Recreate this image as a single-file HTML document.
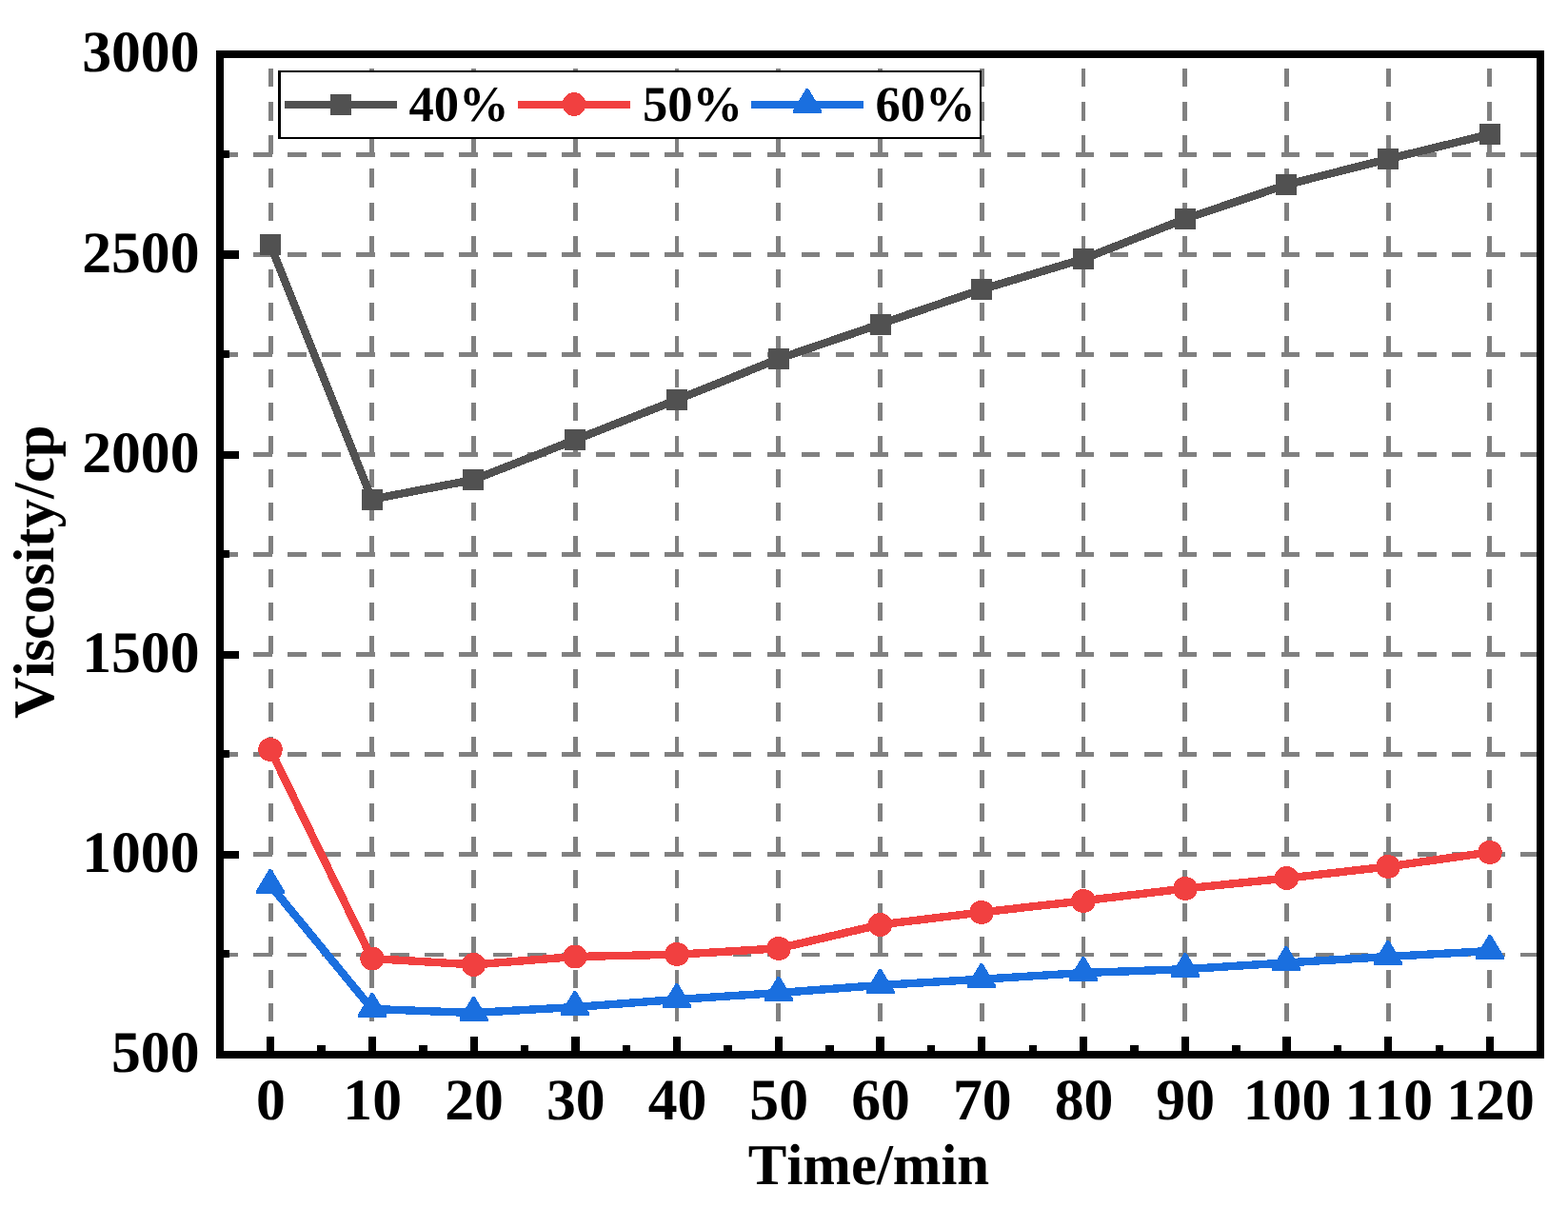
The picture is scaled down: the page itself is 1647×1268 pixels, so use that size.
<!DOCTYPE html>
<html lang="en"><head><meta charset="utf-8"><title>Viscosity vs Time</title>
<style>html,body{margin:0;padding:0;background:#fff}body{width:1647px;height:1268px;overflow:hidden}svg{display:block}text{font-family:"Liberation Serif","Times New Roman",serif;font-weight:bold;fill:#000;font-kerning:none;font-variant-ligatures:none}</style>
</head><body>
<svg width="1647" height="1268" viewBox="0 0 1647 1268" shape-rendering="crispEdges">
<rect x="0" y="0" width="1647" height="1268" fill="#fff"/>
<path fill="#808080" d="M282 72.30H287V91.45H282zM282 107.36H287V126.51H282zM282 142.42H287V161.57H282zM282 177.48H287V196.63H282zM282 212.54H287V231.69H282zM282 247.60H287V266.75H282zM282 282.66H287V301.81H282zM282 317.72H287V336.87H282zM282 352.78H287V371.93H282zM282 387.84H287V406.99H282zM282 422.90H287V442.05H282zM282 457.96H287V477.11H282zM282 493.02H287V512.17H282zM282 528.08H287V547.23H282zM282 563.14H287V582.29H282zM282 598.20H287V617.35H282zM282 633.26H287V652.41H282zM282 668.32H287V687.47H282zM282 703.38H287V722.53H282zM282 738.44H287V757.59H282zM282 773.50H287V792.65H282zM282 808.56H287V827.71H282zM282 843.62H287V862.77H282zM282 878.68H287V897.83H282zM282 913.74H287V932.89H282zM282 948.80H287V967.95H282zM282 983.86H287V1003.01H282zM282 1018.92H287V1038.07H282zM282 1053.98H287V1073.13H282zM388 72.30H393V91.45H388zM388 107.36H393V126.51H388zM388 142.42H393V161.57H388zM388 177.48H393V196.63H388zM388 212.54H393V231.69H388zM388 247.60H393V266.75H388zM388 282.66H393V301.81H388zM388 317.72H393V336.87H388zM388 352.78H393V371.93H388zM388 387.84H393V406.99H388zM388 422.90H393V442.05H388zM388 457.96H393V477.11H388zM388 493.02H393V512.17H388zM388 528.08H393V547.23H388zM388 563.14H393V582.29H388zM388 598.20H393V617.35H388zM388 633.26H393V652.41H388zM388 668.32H393V687.47H388zM388 703.38H393V722.53H388zM388 738.44H393V757.59H388zM388 773.50H393V792.65H388zM388 808.56H393V827.71H388zM388 843.62H393V862.77H388zM388 878.68H393V897.83H388zM388 913.74H393V932.89H388zM388 948.80H393V967.95H388zM388 983.86H393V1003.01H388zM388 1018.92H393V1038.07H388zM388 1053.98H393V1073.13H388zM495 72.30H500V91.45H495zM495 107.36H500V126.51H495zM495 142.42H500V161.57H495zM495 177.48H500V196.63H495zM495 212.54H500V231.69H495zM495 247.60H500V266.75H495zM495 282.66H500V301.81H495zM495 317.72H500V336.87H495zM495 352.78H500V371.93H495zM495 387.84H500V406.99H495zM495 422.90H500V442.05H495zM495 457.96H500V477.11H495zM495 493.02H500V512.17H495zM495 528.08H500V547.23H495zM495 563.14H500V582.29H495zM495 598.20H500V617.35H495zM495 633.26H500V652.41H495zM495 668.32H500V687.47H495zM495 703.38H500V722.53H495zM495 738.44H500V757.59H495zM495 773.50H500V792.65H495zM495 808.56H500V827.71H495zM495 843.62H500V862.77H495zM495 878.68H500V897.83H495zM495 913.74H500V932.89H495zM495 948.80H500V967.95H495zM495 983.86H500V1003.01H495zM495 1018.92H500V1038.07H495zM495 1053.98H500V1073.13H495zM602 72.30H607V91.45H602zM602 107.36H607V126.51H602zM602 142.42H607V161.57H602zM602 177.48H607V196.63H602zM602 212.54H607V231.69H602zM602 247.60H607V266.75H602zM602 282.66H607V301.81H602zM602 317.72H607V336.87H602zM602 352.78H607V371.93H602zM602 387.84H607V406.99H602zM602 422.90H607V442.05H602zM602 457.96H607V477.11H602zM602 493.02H607V512.17H602zM602 528.08H607V547.23H602zM602 563.14H607V582.29H602zM602 598.20H607V617.35H602zM602 633.26H607V652.41H602zM602 668.32H607V687.47H602zM602 703.38H607V722.53H602zM602 738.44H607V757.59H602zM602 773.50H607V792.65H602zM602 808.56H607V827.71H602zM602 843.62H607V862.77H602zM602 878.68H607V897.83H602zM602 913.74H607V932.89H602zM602 948.80H607V967.95H602zM602 983.86H607V1003.01H602zM602 1018.92H607V1038.07H602zM602 1053.98H607V1073.13H602zM709 72.30H713V91.45H709zM709 107.36H713V126.51H709zM709 142.42H713V161.57H709zM709 177.48H713V196.63H709zM709 212.54H713V231.69H709zM709 247.60H713V266.75H709zM709 282.66H713V301.81H709zM709 317.72H713V336.87H709zM709 352.78H713V371.93H709zM709 387.84H713V406.99H709zM709 422.90H713V442.05H709zM709 457.96H713V477.11H709zM709 493.02H713V512.17H709zM709 528.08H713V547.23H709zM709 563.14H713V582.29H709zM709 598.20H713V617.35H709zM709 633.26H713V652.41H709zM709 668.32H713V687.47H709zM709 703.38H713V722.53H709zM709 738.44H713V757.59H709zM709 773.50H713V792.65H709zM709 808.56H713V827.71H709zM709 843.62H713V862.77H709zM709 878.68H713V897.83H709zM709 913.74H713V932.89H709zM709 948.80H713V967.95H709zM709 983.86H713V1003.01H709zM709 1018.92H713V1038.07H709zM709 1053.98H713V1073.13H709zM815 72.30H820V91.45H815zM815 107.36H820V126.51H815zM815 142.42H820V161.57H815zM815 177.48H820V196.63H815zM815 212.54H820V231.69H815zM815 247.60H820V266.75H815zM815 282.66H820V301.81H815zM815 317.72H820V336.87H815zM815 352.78H820V371.93H815zM815 387.84H820V406.99H815zM815 422.90H820V442.05H815zM815 457.96H820V477.11H815zM815 493.02H820V512.17H815zM815 528.08H820V547.23H815zM815 563.14H820V582.29H815zM815 598.20H820V617.35H815zM815 633.26H820V652.41H815zM815 668.32H820V687.47H815zM815 703.38H820V722.53H815zM815 738.44H820V757.59H815zM815 773.50H820V792.65H815zM815 808.56H820V827.71H815zM815 843.62H820V862.77H815zM815 878.68H820V897.83H815zM815 913.74H820V932.89H815zM815 948.80H820V967.95H815zM815 983.86H820V1003.01H815zM815 1018.92H820V1038.07H815zM815 1053.98H820V1073.13H815zM922 72.30H927V91.45H922zM922 107.36H927V126.51H922zM922 142.42H927V161.57H922zM922 177.48H927V196.63H922zM922 212.54H927V231.69H922zM922 247.60H927V266.75H922zM922 282.66H927V301.81H922zM922 317.72H927V336.87H922zM922 352.78H927V371.93H922zM922 387.84H927V406.99H922zM922 422.90H927V442.05H922zM922 457.96H927V477.11H922zM922 493.02H927V512.17H922zM922 528.08H927V547.23H922zM922 563.14H927V582.29H922zM922 598.20H927V617.35H922zM922 633.26H927V652.41H922zM922 668.32H927V687.47H922zM922 703.38H927V722.53H922zM922 738.44H927V757.59H922zM922 773.50H927V792.65H922zM922 808.56H927V827.71H922zM922 843.62H927V862.77H922zM922 878.68H927V897.83H922zM922 913.74H927V932.89H922zM922 948.80H927V967.95H922zM922 983.86H927V1003.01H922zM922 1018.92H927V1038.07H922zM922 1053.98H927V1073.13H922zM1029 72.30H1034V91.45H1029zM1029 107.36H1034V126.51H1029zM1029 142.42H1034V161.57H1029zM1029 177.48H1034V196.63H1029zM1029 212.54H1034V231.69H1029zM1029 247.60H1034V266.75H1029zM1029 282.66H1034V301.81H1029zM1029 317.72H1034V336.87H1029zM1029 352.78H1034V371.93H1029zM1029 387.84H1034V406.99H1029zM1029 422.90H1034V442.05H1029zM1029 457.96H1034V477.11H1029zM1029 493.02H1034V512.17H1029zM1029 528.08H1034V547.23H1029zM1029 563.14H1034V582.29H1029zM1029 598.20H1034V617.35H1029zM1029 633.26H1034V652.41H1029zM1029 668.32H1034V687.47H1029zM1029 703.38H1034V722.53H1029zM1029 738.44H1034V757.59H1029zM1029 773.50H1034V792.65H1029zM1029 808.56H1034V827.71H1029zM1029 843.62H1034V862.77H1029zM1029 878.68H1034V897.83H1029zM1029 913.74H1034V932.89H1029zM1029 948.80H1034V967.95H1029zM1029 983.86H1034V1003.01H1029zM1029 1018.92H1034V1038.07H1029zM1029 1053.98H1034V1073.13H1029zM1136 72.30H1140V91.45H1136zM1136 107.36H1140V126.51H1136zM1136 142.42H1140V161.57H1136zM1136 177.48H1140V196.63H1136zM1136 212.54H1140V231.69H1136zM1136 247.60H1140V266.75H1136zM1136 282.66H1140V301.81H1136zM1136 317.72H1140V336.87H1136zM1136 352.78H1140V371.93H1136zM1136 387.84H1140V406.99H1136zM1136 422.90H1140V442.05H1136zM1136 457.96H1140V477.11H1136zM1136 493.02H1140V512.17H1136zM1136 528.08H1140V547.23H1136zM1136 563.14H1140V582.29H1136zM1136 598.20H1140V617.35H1136zM1136 633.26H1140V652.41H1136zM1136 668.32H1140V687.47H1136zM1136 703.38H1140V722.53H1136zM1136 738.44H1140V757.59H1136zM1136 773.50H1140V792.65H1136zM1136 808.56H1140V827.71H1136zM1136 843.62H1140V862.77H1136zM1136 878.68H1140V897.83H1136zM1136 913.74H1140V932.89H1136zM1136 948.80H1140V967.95H1136zM1136 983.86H1140V1003.01H1136zM1136 1018.92H1140V1038.07H1136zM1136 1053.98H1140V1073.13H1136zM1242 72.30H1247V91.45H1242zM1242 107.36H1247V126.51H1242zM1242 142.42H1247V161.57H1242zM1242 177.48H1247V196.63H1242zM1242 212.54H1247V231.69H1242zM1242 247.60H1247V266.75H1242zM1242 282.66H1247V301.81H1242zM1242 317.72H1247V336.87H1242zM1242 352.78H1247V371.93H1242zM1242 387.84H1247V406.99H1242zM1242 422.90H1247V442.05H1242zM1242 457.96H1247V477.11H1242zM1242 493.02H1247V512.17H1242zM1242 528.08H1247V547.23H1242zM1242 563.14H1247V582.29H1242zM1242 598.20H1247V617.35H1242zM1242 633.26H1247V652.41H1242zM1242 668.32H1247V687.47H1242zM1242 703.38H1247V722.53H1242zM1242 738.44H1247V757.59H1242zM1242 773.50H1247V792.65H1242zM1242 808.56H1247V827.71H1242zM1242 843.62H1247V862.77H1242zM1242 878.68H1247V897.83H1242zM1242 913.74H1247V932.89H1242zM1242 948.80H1247V967.95H1242zM1242 983.86H1247V1003.01H1242zM1242 1018.92H1247V1038.07H1242zM1242 1053.98H1247V1073.13H1242zM1349 72.30H1354V91.45H1349zM1349 107.36H1354V126.51H1349zM1349 142.42H1354V161.57H1349zM1349 177.48H1354V196.63H1349zM1349 212.54H1354V231.69H1349zM1349 247.60H1354V266.75H1349zM1349 282.66H1354V301.81H1349zM1349 317.72H1354V336.87H1349zM1349 352.78H1354V371.93H1349zM1349 387.84H1354V406.99H1349zM1349 422.90H1354V442.05H1349zM1349 457.96H1354V477.11H1349zM1349 493.02H1354V512.17H1349zM1349 528.08H1354V547.23H1349zM1349 563.14H1354V582.29H1349zM1349 598.20H1354V617.35H1349zM1349 633.26H1354V652.41H1349zM1349 668.32H1354V687.47H1349zM1349 703.38H1354V722.53H1349zM1349 738.44H1354V757.59H1349zM1349 773.50H1354V792.65H1349zM1349 808.56H1354V827.71H1349zM1349 843.62H1354V862.77H1349zM1349 878.68H1354V897.83H1349zM1349 913.74H1354V932.89H1349zM1349 948.80H1354V967.95H1349zM1349 983.86H1354V1003.01H1349zM1349 1018.92H1354V1038.07H1349zM1349 1053.98H1354V1073.13H1349zM1456 72.30H1461V91.45H1456zM1456 107.36H1461V126.51H1456zM1456 142.42H1461V161.57H1456zM1456 177.48H1461V196.63H1456zM1456 212.54H1461V231.69H1456zM1456 247.60H1461V266.75H1456zM1456 282.66H1461V301.81H1456zM1456 317.72H1461V336.87H1456zM1456 352.78H1461V371.93H1456zM1456 387.84H1461V406.99H1456zM1456 422.90H1461V442.05H1456zM1456 457.96H1461V477.11H1456zM1456 493.02H1461V512.17H1456zM1456 528.08H1461V547.23H1456zM1456 563.14H1461V582.29H1456zM1456 598.20H1461V617.35H1456zM1456 633.26H1461V652.41H1456zM1456 668.32H1461V687.47H1456zM1456 703.38H1461V722.53H1456zM1456 738.44H1461V757.59H1456zM1456 773.50H1461V792.65H1456zM1456 808.56H1461V827.71H1456zM1456 843.62H1461V862.77H1456zM1456 878.68H1461V897.83H1456zM1456 913.74H1461V932.89H1456zM1456 948.80H1461V967.95H1456zM1456 983.86H1461V1003.01H1456zM1456 1018.92H1461V1038.07H1456zM1456 1053.98H1461V1073.13H1456zM1562 72.30H1567V91.45H1562zM1562 107.36H1567V126.51H1562zM1562 142.42H1567V161.57H1562zM1562 177.48H1567V196.63H1562zM1562 212.54H1567V231.69H1562zM1562 247.60H1567V266.75H1562zM1562 282.66H1567V301.81H1562zM1562 317.72H1567V336.87H1562zM1562 352.78H1567V371.93H1562zM1562 387.84H1567V406.99H1562zM1562 422.90H1567V442.05H1562zM1562 457.96H1567V477.11H1562zM1562 493.02H1567V512.17H1562zM1562 528.08H1567V547.23H1562zM1562 563.14H1567V582.29H1562zM1562 598.20H1567V617.35H1562zM1562 633.26H1567V652.41H1562zM1562 668.32H1567V687.47H1562zM1562 703.38H1567V722.53H1562zM1562 738.44H1567V757.59H1562zM1562 773.50H1567V792.65H1562zM1562 808.56H1567V827.71H1562zM1562 843.62H1567V862.77H1562zM1562 878.68H1567V897.83H1562zM1562 913.74H1567V932.89H1562zM1562 948.80H1567V967.95H1562zM1562 983.86H1567V1003.01H1562zM1562 1018.92H1567V1038.07H1562zM1562 1053.98H1567V1073.13H1562zM235.00 160H249.83V165H235.00zM266.30 160H285.80V165H266.30zM302.28 160H321.78V165H302.28zM338.25 160H357.75V165H338.25zM374.23 160H393.73V165H374.23zM410.20 160H429.70V165H410.20zM446.18 160H465.68V165H446.18zM482.15 160H501.65V165H482.15zM518.12 160H537.62V165H518.12zM554.10 160H573.60V165H554.10zM590.08 160H609.58V165H590.08zM626.05 160H645.55V165H626.05zM662.03 160H681.53V165H662.03zM698.00 160H717.50V165H698.00zM733.98 160H753.48V165H733.98zM769.95 160H789.45V165H769.95zM805.92 160H825.42V165H805.92zM841.90 160H861.40V165H841.90zM877.88 160H897.38V165H877.88zM913.85 160H933.35V165H913.85zM949.83 160H969.33V165H949.83zM985.80 160H1005.30V165H985.80zM1021.78 160H1041.28V165H1021.78zM1057.75 160H1077.25V165H1057.75zM1093.73 160H1113.23V165H1093.73zM1129.70 160H1149.20V165H1129.70zM1165.67 160H1185.17V165H1165.67zM1201.65 160H1221.15V165H1201.65zM1237.62 160H1257.12V165H1237.62zM1273.60 160H1293.10V165H1273.60zM1309.58 160H1329.08V165H1309.58zM1345.55 160H1365.05V165H1345.55zM1381.53 160H1401.03V165H1381.53zM1417.50 160H1437.00V165H1417.50zM1453.47 160H1472.97V165H1453.47zM1489.45 160H1508.95V165H1489.45zM1525.42 160H1544.92V165H1525.42zM1561.40 160H1580.90V165H1561.40zM1597.38 160H1614.00V165H1597.38zM235.00 265H249.83V270H235.00zM266.30 265H285.80V270H266.30zM302.28 265H321.78V270H302.28zM338.25 265H357.75V270H338.25zM374.23 265H393.73V270H374.23zM410.20 265H429.70V270H410.20zM446.18 265H465.68V270H446.18zM482.15 265H501.65V270H482.15zM518.12 265H537.62V270H518.12zM554.10 265H573.60V270H554.10zM590.08 265H609.58V270H590.08zM626.05 265H645.55V270H626.05zM662.03 265H681.53V270H662.03zM698.00 265H717.50V270H698.00zM733.98 265H753.48V270H733.98zM769.95 265H789.45V270H769.95zM805.92 265H825.42V270H805.92zM841.90 265H861.40V270H841.90zM877.88 265H897.38V270H877.88zM913.85 265H933.35V270H913.85zM949.83 265H969.33V270H949.83zM985.80 265H1005.30V270H985.80zM1021.78 265H1041.28V270H1021.78zM1057.75 265H1077.25V270H1057.75zM1093.73 265H1113.23V270H1093.73zM1129.70 265H1149.20V270H1129.70zM1165.67 265H1185.17V270H1165.67zM1201.65 265H1221.15V270H1201.65zM1237.62 265H1257.12V270H1237.62zM1273.60 265H1293.10V270H1273.60zM1309.58 265H1329.08V270H1309.58zM1345.55 265H1365.05V270H1345.55zM1381.53 265H1401.03V270H1381.53zM1417.50 265H1437.00V270H1417.50zM1453.47 265H1472.97V270H1453.47zM1489.45 265H1508.95V270H1489.45zM1525.42 265H1544.92V270H1525.42zM1561.40 265H1580.90V270H1561.40zM1597.38 265H1614.00V270H1597.38zM235.00 370H249.83V375H235.00zM266.30 370H285.80V375H266.30zM302.28 370H321.78V375H302.28zM338.25 370H357.75V375H338.25zM374.23 370H393.73V375H374.23zM410.20 370H429.70V375H410.20zM446.18 370H465.68V375H446.18zM482.15 370H501.65V375H482.15zM518.12 370H537.62V375H518.12zM554.10 370H573.60V375H554.10zM590.08 370H609.58V375H590.08zM626.05 370H645.55V375H626.05zM662.03 370H681.53V375H662.03zM698.00 370H717.50V375H698.00zM733.98 370H753.48V375H733.98zM769.95 370H789.45V375H769.95zM805.92 370H825.42V375H805.92zM841.90 370H861.40V375H841.90zM877.88 370H897.38V375H877.88zM913.85 370H933.35V375H913.85zM949.83 370H969.33V375H949.83zM985.80 370H1005.30V375H985.80zM1021.78 370H1041.28V375H1021.78zM1057.75 370H1077.25V375H1057.75zM1093.73 370H1113.23V375H1093.73zM1129.70 370H1149.20V375H1129.70zM1165.67 370H1185.17V375H1165.67zM1201.65 370H1221.15V375H1201.65zM1237.62 370H1257.12V375H1237.62zM1273.60 370H1293.10V375H1273.60zM1309.58 370H1329.08V375H1309.58zM1345.55 370H1365.05V375H1345.55zM1381.53 370H1401.03V375H1381.53zM1417.50 370H1437.00V375H1417.50zM1453.47 370H1472.97V375H1453.47zM1489.45 370H1508.95V375H1489.45zM1525.42 370H1544.92V375H1525.42zM1561.40 370H1580.90V375H1561.40zM1597.38 370H1614.00V375H1597.38zM235.00 475H249.83V480H235.00zM266.30 475H285.80V480H266.30zM302.28 475H321.78V480H302.28zM338.25 475H357.75V480H338.25zM374.23 475H393.73V480H374.23zM410.20 475H429.70V480H410.20zM446.18 475H465.68V480H446.18zM482.15 475H501.65V480H482.15zM518.12 475H537.62V480H518.12zM554.10 475H573.60V480H554.10zM590.08 475H609.58V480H590.08zM626.05 475H645.55V480H626.05zM662.03 475H681.53V480H662.03zM698.00 475H717.50V480H698.00zM733.98 475H753.48V480H733.98zM769.95 475H789.45V480H769.95zM805.92 475H825.42V480H805.92zM841.90 475H861.40V480H841.90zM877.88 475H897.38V480H877.88zM913.85 475H933.35V480H913.85zM949.83 475H969.33V480H949.83zM985.80 475H1005.30V480H985.80zM1021.78 475H1041.28V480H1021.78zM1057.75 475H1077.25V480H1057.75zM1093.73 475H1113.23V480H1093.73zM1129.70 475H1149.20V480H1129.70zM1165.67 475H1185.17V480H1165.67zM1201.65 475H1221.15V480H1201.65zM1237.62 475H1257.12V480H1237.62zM1273.60 475H1293.10V480H1273.60zM1309.58 475H1329.08V480H1309.58zM1345.55 475H1365.05V480H1345.55zM1381.53 475H1401.03V480H1381.53zM1417.50 475H1437.00V480H1417.50zM1453.47 475H1472.97V480H1453.47zM1489.45 475H1508.95V480H1489.45zM1525.42 475H1544.92V480H1525.42zM1561.40 475H1580.90V480H1561.40zM1597.38 475H1614.00V480H1597.38zM235.00 580H249.83V585H235.00zM266.30 580H285.80V585H266.30zM302.28 580H321.78V585H302.28zM338.25 580H357.75V585H338.25zM374.23 580H393.73V585H374.23zM410.20 580H429.70V585H410.20zM446.18 580H465.68V585H446.18zM482.15 580H501.65V585H482.15zM518.12 580H537.62V585H518.12zM554.10 580H573.60V585H554.10zM590.08 580H609.58V585H590.08zM626.05 580H645.55V585H626.05zM662.03 580H681.53V585H662.03zM698.00 580H717.50V585H698.00zM733.98 580H753.48V585H733.98zM769.95 580H789.45V585H769.95zM805.92 580H825.42V585H805.92zM841.90 580H861.40V585H841.90zM877.88 580H897.38V585H877.88zM913.85 580H933.35V585H913.85zM949.83 580H969.33V585H949.83zM985.80 580H1005.30V585H985.80zM1021.78 580H1041.28V585H1021.78zM1057.75 580H1077.25V585H1057.75zM1093.73 580H1113.23V585H1093.73zM1129.70 580H1149.20V585H1129.70zM1165.67 580H1185.17V585H1165.67zM1201.65 580H1221.15V585H1201.65zM1237.62 580H1257.12V585H1237.62zM1273.60 580H1293.10V585H1273.60zM1309.58 580H1329.08V585H1309.58zM1345.55 580H1365.05V585H1345.55zM1381.53 580H1401.03V585H1381.53zM1417.50 580H1437.00V585H1417.50zM1453.47 580H1472.97V585H1453.47zM1489.45 580H1508.95V585H1489.45zM1525.42 580H1544.92V585H1525.42zM1561.40 580H1580.90V585H1561.40zM1597.38 580H1614.00V585H1597.38zM235.00 685H249.83V690H235.00zM266.30 685H285.80V690H266.30zM302.28 685H321.78V690H302.28zM338.25 685H357.75V690H338.25zM374.23 685H393.73V690H374.23zM410.20 685H429.70V690H410.20zM446.18 685H465.68V690H446.18zM482.15 685H501.65V690H482.15zM518.12 685H537.62V690H518.12zM554.10 685H573.60V690H554.10zM590.08 685H609.58V690H590.08zM626.05 685H645.55V690H626.05zM662.03 685H681.53V690H662.03zM698.00 685H717.50V690H698.00zM733.98 685H753.48V690H733.98zM769.95 685H789.45V690H769.95zM805.92 685H825.42V690H805.92zM841.90 685H861.40V690H841.90zM877.88 685H897.38V690H877.88zM913.85 685H933.35V690H913.85zM949.83 685H969.33V690H949.83zM985.80 685H1005.30V690H985.80zM1021.78 685H1041.28V690H1021.78zM1057.75 685H1077.25V690H1057.75zM1093.73 685H1113.23V690H1093.73zM1129.70 685H1149.20V690H1129.70zM1165.67 685H1185.17V690H1165.67zM1201.65 685H1221.15V690H1201.65zM1237.62 685H1257.12V690H1237.62zM1273.60 685H1293.10V690H1273.60zM1309.58 685H1329.08V690H1309.58zM1345.55 685H1365.05V690H1345.55zM1381.53 685H1401.03V690H1381.53zM1417.50 685H1437.00V690H1417.50zM1453.47 685H1472.97V690H1453.47zM1489.45 685H1508.95V690H1489.45zM1525.42 685H1544.92V690H1525.42zM1561.40 685H1580.90V690H1561.40zM1597.38 685H1614.00V690H1597.38zM235.00 790H249.83V795H235.00zM266.30 790H285.80V795H266.30zM302.28 790H321.78V795H302.28zM338.25 790H357.75V795H338.25zM374.23 790H393.73V795H374.23zM410.20 790H429.70V795H410.20zM446.18 790H465.68V795H446.18zM482.15 790H501.65V795H482.15zM518.12 790H537.62V795H518.12zM554.10 790H573.60V795H554.10zM590.08 790H609.58V795H590.08zM626.05 790H645.55V795H626.05zM662.03 790H681.53V795H662.03zM698.00 790H717.50V795H698.00zM733.98 790H753.48V795H733.98zM769.95 790H789.45V795H769.95zM805.92 790H825.42V795H805.92zM841.90 790H861.40V795H841.90zM877.88 790H897.38V795H877.88zM913.85 790H933.35V795H913.85zM949.83 790H969.33V795H949.83zM985.80 790H1005.30V795H985.80zM1021.78 790H1041.28V795H1021.78zM1057.75 790H1077.25V795H1057.75zM1093.73 790H1113.23V795H1093.73zM1129.70 790H1149.20V795H1129.70zM1165.67 790H1185.17V795H1165.67zM1201.65 790H1221.15V795H1201.65zM1237.62 790H1257.12V795H1237.62zM1273.60 790H1293.10V795H1273.60zM1309.58 790H1329.08V795H1309.58zM1345.55 790H1365.05V795H1345.55zM1381.53 790H1401.03V795H1381.53zM1417.50 790H1437.00V795H1417.50zM1453.47 790H1472.97V795H1453.47zM1489.45 790H1508.95V795H1489.45zM1525.42 790H1544.92V795H1525.42zM1561.40 790H1580.90V795H1561.40zM1597.38 790H1614.00V795H1597.38zM235.00 895H249.83V900H235.00zM266.30 895H285.80V900H266.30zM302.28 895H321.78V900H302.28zM338.25 895H357.75V900H338.25zM374.23 895H393.73V900H374.23zM410.20 895H429.70V900H410.20zM446.18 895H465.68V900H446.18zM482.15 895H501.65V900H482.15zM518.12 895H537.62V900H518.12zM554.10 895H573.60V900H554.10zM590.08 895H609.58V900H590.08zM626.05 895H645.55V900H626.05zM662.03 895H681.53V900H662.03zM698.00 895H717.50V900H698.00zM733.98 895H753.48V900H733.98zM769.95 895H789.45V900H769.95zM805.92 895H825.42V900H805.92zM841.90 895H861.40V900H841.90zM877.88 895H897.38V900H877.88zM913.85 895H933.35V900H913.85zM949.83 895H969.33V900H949.83zM985.80 895H1005.30V900H985.80zM1021.78 895H1041.28V900H1021.78zM1057.75 895H1077.25V900H1057.75zM1093.73 895H1113.23V900H1093.73zM1129.70 895H1149.20V900H1129.70zM1165.67 895H1185.17V900H1165.67zM1201.65 895H1221.15V900H1201.65zM1237.62 895H1257.12V900H1237.62zM1273.60 895H1293.10V900H1273.60zM1309.58 895H1329.08V900H1309.58zM1345.55 895H1365.05V900H1345.55zM1381.53 895H1401.03V900H1381.53zM1417.50 895H1437.00V900H1417.50zM1453.47 895H1472.97V900H1453.47zM1489.45 895H1508.95V900H1489.45zM1525.42 895H1544.92V900H1525.42zM1561.40 895H1580.90V900H1561.40zM1597.38 895H1614.00V900H1597.38zM235.00 1001H249.83V1005H235.00zM266.30 1001H285.80V1005H266.30zM302.28 1001H321.78V1005H302.28zM338.25 1001H357.75V1005H338.25zM374.23 1001H393.73V1005H374.23zM410.20 1001H429.70V1005H410.20zM446.18 1001H465.68V1005H446.18zM482.15 1001H501.65V1005H482.15zM518.12 1001H537.62V1005H518.12zM554.10 1001H573.60V1005H554.10zM590.08 1001H609.58V1005H590.08zM626.05 1001H645.55V1005H626.05zM662.03 1001H681.53V1005H662.03zM698.00 1001H717.50V1005H698.00zM733.98 1001H753.48V1005H733.98zM769.95 1001H789.45V1005H769.95zM805.92 1001H825.42V1005H805.92zM841.90 1001H861.40V1005H841.90zM877.88 1001H897.38V1005H877.88zM913.85 1001H933.35V1005H913.85zM949.83 1001H969.33V1005H949.83zM985.80 1001H1005.30V1005H985.80zM1021.78 1001H1041.28V1005H1021.78zM1057.75 1001H1077.25V1005H1057.75zM1093.73 1001H1113.23V1005H1093.73zM1129.70 1001H1149.20V1005H1129.70zM1165.67 1001H1185.17V1005H1165.67zM1201.65 1001H1221.15V1005H1201.65zM1237.62 1001H1257.12V1005H1237.62zM1273.60 1001H1293.10V1005H1273.60zM1309.58 1001H1329.08V1005H1309.58zM1345.55 1001H1365.05V1005H1345.55zM1381.53 1001H1401.03V1005H1381.53zM1417.50 1001H1437.00V1005H1417.50zM1453.47 1001H1472.97V1005H1453.47zM1489.45 1001H1508.95V1005H1489.45zM1525.42 1001H1544.92V1005H1525.42zM1561.40 1001H1580.90V1005H1561.40zM1597.38 1001H1614.00V1005H1597.38z"/>
<polyline fill="none" stroke="#515151" stroke-width="8.4" stroke-linejoin="round" points="284.00,257.00 390.75,524.50 497.50,504.00 604.25,462.00 711.00,420.00 817.75,377.00 924.50,340.50 1031.25,304.00 1138.00,272.00 1244.75,230.00 1351.50,194.00 1458.25,167.00 1565.00,141.00"/>
<path fill="#515151" d="M273 246h22v22h-22zM380 514h22v22h-22zM486 493h22v22h-22zM593 451h22v22h-22zM700 409h22v22h-22zM807 366h22v22h-22zM914 330h22v22h-22zM1020 293h22v22h-22zM1127 261h22v22h-22zM1234 219h22v22h-22zM1340 183h22v22h-22zM1447 156h22v22h-22zM1554 130h22v22h-22z"/>
<polyline fill="none" stroke="#F14040" stroke-width="8.4" stroke-linejoin="round" points="284.00,787.50 390.75,1007.00 497.50,1013.40 604.25,1005.00 711.00,1002.70 817.75,996.40 924.50,971.40 1031.25,958.40 1138.00,946.30 1244.75,933.50 1351.50,922.60 1458.25,910.40 1565.00,895.30"/>
<ellipse cx="284.0" cy="787.5" rx="12.7" ry="12.5" fill="#F14040"/>
<ellipse cx="391.0" cy="1007.0" rx="12.7" ry="12.5" fill="#F14040"/>
<ellipse cx="497.5" cy="1013.5" rx="12.7" ry="12.5" fill="#F14040"/>
<ellipse cx="604.0" cy="1005.0" rx="12.7" ry="12.5" fill="#F14040"/>
<ellipse cx="711.0" cy="1002.5" rx="12.7" ry="12.5" fill="#F14040"/>
<ellipse cx="818.0" cy="996.5" rx="12.7" ry="12.5" fill="#F14040"/>
<ellipse cx="924.5" cy="971.5" rx="12.7" ry="12.5" fill="#F14040"/>
<ellipse cx="1031.0" cy="958.5" rx="12.7" ry="12.5" fill="#F14040"/>
<ellipse cx="1138.0" cy="946.5" rx="12.7" ry="12.5" fill="#F14040"/>
<ellipse cx="1245.0" cy="933.5" rx="12.7" ry="12.5" fill="#F14040"/>
<ellipse cx="1351.5" cy="922.5" rx="12.7" ry="12.5" fill="#F14040"/>
<ellipse cx="1458.0" cy="910.5" rx="12.7" ry="12.5" fill="#F14040"/>
<ellipse cx="1565.0" cy="895.5" rx="12.7" ry="12.5" fill="#F14040"/>
<polyline fill="none" stroke="#1A6FDF" stroke-width="8.4" stroke-linejoin="round" points="284.00,930.00 390.75,1060.00 497.50,1064.00 604.25,1058.00 711.00,1050.00 817.75,1043.00 924.50,1035.00 1031.25,1028.70 1138.00,1022.00 1244.75,1018.20 1351.50,1011.40 1458.25,1005.00 1565.00,999.00"/>
<path fill="#1A6FDF" d="M282.8 913h2.4L299.0 936v3h-30v-3zM389.8 1043h2.4L406.0 1066v3h-30v-3zM496.3 1047h2.4L512.5 1070v3h-30v-3zM602.8 1041h2.4L619.0 1064v3h-30v-3zM709.8 1033h2.4L726.0 1056v3h-30v-3zM816.8 1026h2.4L833.0 1049v3h-30v-3zM923.3 1018h2.4L939.5 1041v3h-30v-3zM1029.8 1012h2.4L1046.0 1035v3h-30v-3zM1136.8 1005h2.4L1153.0 1028v3h-30v-3zM1243.8 1001h2.4L1260.0 1024v3h-30v-3zM1349.8 994h2.4L1366.0 1017v3h-30v-3zM1456.8 988h2.4L1473.0 1011v3h-30v-3zM1563.8 982h2.4L1580.0 1005v3h-30v-3z"/>
<path fill="#000" fill-rule="evenodd" d="M227 53H1622V1112H227zM235 61V1104H1614V61z"/>
<path fill="#000" d="M280 1089h8v15h-8zM333 1098h9v6h-9zM387 1089h8v15h-8zM440 1098h9v6h-9zM494 1089h8v15h-8zM547 1098h8v6h-8zM600 1089h9v15h-9zM654 1098h8v6h-8zM707 1089h8v15h-8zM760 1098h9v6h-9zM814 1089h8v15h-8zM867 1098h9v6h-9zM920 1089h9v15h-9zM974 1098h8v6h-8zM1027 1089h8v15h-8zM1081 1098h8v6h-8zM1134 1089h8v15h-8zM1187 1098h9v6h-9zM1241 1089h8v15h-8zM1294 1098h9v6h-9zM1347 1089h9v15h-9zM1401 1098h8v6h-8zM1454 1089h8v15h-8zM1508 1098h8v6h-8zM1561 1089h8v15h-8zM235 158h6v8h-6zM235 263h16v9h-16zM235 368h6v8h-6zM235 474h16v8h-16zM235 578h6v8h-6zM235 684h16v8h-16zM235 788h6v8h-6zM235 894h16v8h-16zM235 998h6v8h-6z"/>
<rect x="292" y="74" width="739" height="72" fill="#000"/>
<rect x="295" y="76" width="734" height="68" fill="#fff"/>
<rect x="299" y="106" width="118" height="8" fill="#515151"/>
<rect x="347" y="99" width="22" height="22" fill="#515151"/>
<rect x="544" y="106" width="118" height="8" fill="#F14040"/>
<ellipse cx="603" cy="109.5" rx="12.2" ry="12.5" fill="#F14040"/>
<rect x="789" y="106" width="118" height="8" fill="#1A6FDF"/>
<path fill="#1A6FDF" d="M846.8 93h2.4L863 116v3h-30v-3z"/>
<g font-size="52.6" text-rendering="geometricPrecision">
<text x="429.4" y="127">40%</text>
<text x="675" y="127">50%</text>
<text x="919.4" y="127">60%</text>
</g>
<g font-size="61.7" text-anchor="end" text-rendering="geometricPrecision">
<text x="209.5" y="75">3000</text>
<text x="209.5" y="286">2500</text>
<text x="209.5" y="496">2000</text>
<text x="209.5" y="706">1500</text>
<text x="209.5" y="916">1000</text>
<text x="209.5" y="1126">500</text>
</g>
<g font-size="61.7" text-anchor="middle" text-rendering="geometricPrecision">
<text x="284.5" y="1176">0</text>
<text x="391.2" y="1176">10</text>
<text x="498.0" y="1176">20</text>
<text x="604.8" y="1176">30</text>
<text x="711.5" y="1176">40</text>
<text x="818.2" y="1176">50</text>
<text x="925.0" y="1176">60</text>
<text x="1031.8" y="1176">70</text>
<text x="1138.5" y="1176">80</text>
<text x="1245.2" y="1176">90</text>
<text x="1352.0" y="1176">100</text>
<text x="1458.8" y="1176">110</text>
<text x="1565.5" y="1176">120</text>
<text x="912.5" y="1244" font-size="60.8">Time/min</text>
<text transform="translate(55.8 601.7) rotate(-90)" x="1" y="0" dx="0 0 -0.8 -0.7 0 -0.5" font-size="60.8">Viscosity/cp</text>
</g>
</svg>
</body></html>
